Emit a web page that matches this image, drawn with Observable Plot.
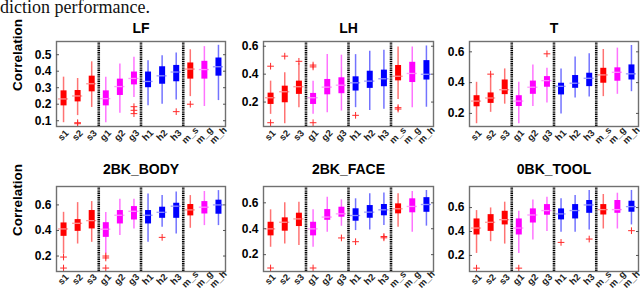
<!DOCTYPE html>
<html><head><meta charset="utf-8">
<script src="https://cdn.jsdelivr.net/npm/d3@7"></script>
<script src="https://cdn.jsdelivr.net/npm/@observablehq/plot@0.6"></script>
<style>
body{margin:0;background:#fff;}
#wrap{position:relative;width:640px;height:291px;overflow:hidden;background:#fff;}
#head{position:absolute;left:0;top:-2px;font:18px/18px "Liberation Serif","Times New Roman",serif;color:#111;white-space:nowrap;}
.panel{position:absolute;}
</style></head><body>
<div id="wrap"><div id="head">diction performance.</div></div>
<script>
// ---- categories ----
const categories = ["s1","s2","s3","g1","g2","g3","h1","h2","h3","m_s","m_g","m_h"];
const separators = [3.5, 6.5, 9.5];

// ---- LF ----
const LF_lo  = [0.088,0.131,0.180,0.088,0.145,0.240,0.190,0.200,0.226,0.246,0.186,0.222];
const LF_q1  = [0.190,0.214,0.275,0.190,0.253,0.317,0.300,0.321,0.336,0.352,0.352,0.370];
const LF_med = [0.232,0.250,0.324,0.234,0.307,0.356,0.338,0.372,0.395,0.413,0.410,0.427];
const LF_q3  = [0.281,0.283,0.370,0.281,0.352,0.395,0.395,0.427,0.435,0.450,0.460,0.480];
const LF_hi  = [0.364,0.356,0.457,0.364,0.443,0.484,0.463,0.494,0.510,0.530,0.549,0.557];
const LF_out = [["s2",0.082],["s2",0.088],["g3",0.185],["g3",0.163],["g3",0.143],["h3",0.155],["m_s",0.200]];
const LF_ticks = [0.1,0.2,0.3,0.4,0.5];

// ---- LH ----
const LH_lo  = [0.112,0.045,0.160,0.112,0.124,0.136,0.160,0.140,0.148,0.219,0.160,0.163];
const LH_q1  = [0.183,0.195,0.255,0.183,0.252,0.260,0.279,0.298,0.310,0.352,0.340,0.358];
const LH_med = [0.231,0.274,0.310,0.231,0.307,0.321,0.338,0.350,0.367,0.385,0.405,0.399];
const LH_q3  = [0.264,0.314,0.350,0.262,0.362,0.374,0.381,0.421,0.429,0.462,0.485,0.497];
const LH_hi  = [0.350,0.410,0.475,0.350,0.540,0.536,0.540,0.564,0.571,0.595,0.595,0.602];
const LH_out = [["s1",0.457],["s1",0.052],["s2",0.529],["s3",0.492],["g1",0.465],["g1",0.452],["g1",0.052],["h1",0.105],["m_s",0.160],["m_s",0.150]];
const LH_ticks = [0.2,0.4,0.6];

// ---- T ----
const T_lo  = [0.133,0.207,0.260,0.133,0.245,0.267,0.196,0.300,0.306,0.309,0.324,0.341];
const T_q1  = [0.243,0.265,0.322,0.245,0.324,0.370,0.320,0.363,0.374,0.396,0.409,0.417];
const T_med = [0.280,0.300,0.354,0.280,0.370,0.413,0.376,0.396,0.428,0.450,0.467,0.457];
const T_q3  = [0.315,0.333,0.417,0.315,0.410,0.439,0.396,0.446,0.461,0.493,0.496,0.515];
const T_hi  = [0.402,0.445,0.489,0.402,0.515,0.493,0.489,0.567,0.587,0.615,0.624,0.641];
const T_out = [["s2",0.455],["g3",0.587]];
const T_ticks = [0.2,0.4,0.6];

// ---- 2BK_BODY ----
const BODY_lo  = [0.216,0.294,0.307,0.216,0.360,0.412,0.307,0.425,0.373,0.417,0.438,0.438];
const BODY_q1  = [0.354,0.393,0.412,0.346,0.451,0.482,0.451,0.495,0.495,0.514,0.529,0.527];
const BODY_med = [0.412,0.456,0.477,0.410,0.519,0.550,0.519,0.542,0.590,0.561,0.582,0.600];
const BODY_q3  = [0.459,0.485,0.556,0.461,0.556,0.587,0.556,0.582,0.613,0.603,0.626,0.637];
const BODY_hi  = [0.542,0.618,0.626,0.540,0.644,0.644,0.686,0.673,0.700,0.673,0.705,0.712];
const BODY_out = [["s1",0.192],["s1",0.106],["g1",0.200],["g1",0.185],["g1",0.106],["h2",0.346]];
const BODY_ticks = [0.2,0.4,0.6];

// ---- 2BK_FACE ----
const FACE_lo  = [0.257,0.283,0.270,0.257,0.373,0.419,0.386,0.391,0.425,0.412,0.373,0.420];
const FACE_q1  = [0.345,0.381,0.417,0.345,0.465,0.489,0.458,0.481,0.500,0.515,0.523,0.527];
const FACE_med = [0.399,0.450,0.476,0.399,0.490,0.515,0.502,0.528,0.546,0.554,0.572,0.587];
const FACE_q3  = [0.450,0.484,0.520,0.450,0.548,0.566,0.554,0.579,0.587,0.592,0.631,0.640];
const FACE_hi  = [0.546,0.600,0.605,0.546,0.644,0.623,0.631,0.670,0.675,0.670,0.688,0.695];
const FACE_out = [["s1",0.097],["g1",0.097],["g3",0.329],["h1",0.300],["h3",0.340],["h3",0.330]];
const FACE_ticks = [0.2,0.4,0.6];

// ---- 0BK_TOOL ----
const TOOL_lo  = [0.217,0.315,0.295,0.217,0.329,0.401,0.393,0.393,0.413,0.421,0.421,0.455];
const TOOL_q1  = [0.371,0.401,0.455,0.371,0.471,0.536,0.497,0.505,0.552,0.538,0.552,0.561];
const TOOL_med = [0.429,0.477,0.499,0.429,0.538,0.575,0.547,0.575,0.622,0.583,0.583,0.608];
const TOOL_q3  = [0.505,0.541,0.569,0.505,0.589,0.625,0.589,0.625,0.659,0.625,0.659,0.653];
const TOOL_hi  = [0.575,0.597,0.645,0.569,0.664,0.687,0.673,0.701,0.743,0.709,0.720,0.743];
const TOOL_out = [["s1",0.094],["g1",0.094],["h1",0.309],["h3",0.337],["m_h",0.407]];
const TOOL_ticks = [0.2,0.4,0.6];

const groupOf = c => c.startsWith("m_") ? c[2] : c[0];
const colorScale = {domain: ["s","g","h"], range: ["#ff0000","#ff00ff","#0000ff"]};

function panel(o) {
  const [L, T, R, B] = o.frame;
  const ml = 50, mr = 2, mt = 36, mb = 24;
  const rows = categories.map((c, i) => ({c, x: i + 1, g: groupOf(c),
    lo: o.lo[i], q1: o.q1[i], med: o.med[i], q3: o.q3[i], hi: o.hi[i]}));
  const outs = o.out.map(([c, v]) => ({x: categories.indexOf(c) + 1, y: v}));
  const svg = Plot.plot({
    width: ml + (R - L) + mr, height: mt + (B - T) + mb,
    marginLeft: ml, marginRight: mr, marginTop: mt, marginBottom: mb,
    x: {domain: [0.5, 12.5], axis: null},
    y: {domain: o.domain},
    color: colorScale,
    style: {background: "none", overflow: "visible", fontFamily: "'Liberation Sans', Arial, sans-serif", color: "#000"},
    marks: [
      Plot.ruleX(rows, {x: "x", y1: "lo", y2: "hi", stroke: "g", strokeWidth: 1.5, strokeOpacity: 0.55}),
      Plot.ruleX(rows, {x: "x", y1: "q1", y2: "q3", stroke: "g", strokeWidth: 6}),
      Plot.ruleY(rows, {y: "med", x1: d => d.x - 0.36, x2: d => d.x + 0.36, stroke: "g", strokeOpacity: 0.4, strokeWidth: 1.3}),
      Plot.ruleY(rows, {y: "med", x1: d => d.x - 0.21, x2: d => d.x + 0.21, stroke: "white", strokeOpacity: 0.55, strokeWidth: 1.3}),
      Plot.dot(outs, {x: "x", y: "y", symbol: "plus", r: 2.3, stroke: "#ff2a2a", strokeWidth: 1}),
      Plot.ruleX(separators, {stroke: "#000", strokeWidth: 2.6, strokeDasharray: "1.4,0.8"}),
      Plot.frame({stroke: "#707070", strokeWidth: 1.4}),
      Plot.axisY({ticks: o.ticks, anchor: "left", tickSize: 0, tickPadding: 5, fontSize: 12, fontWeight: "bold", tickFormat: d3.format(".1f")}),
      Plot.axisY({ticks: o.ticks, anchor: "left", tickSize: -3, tickFormat: () => "", stroke: "#555"}),
      Plot.axisY({ticks: o.ticks, anchor: "right", tickSize: -3, tickFormat: () => "", stroke: "#555"}),
      Plot.text(rows, {x: "x", text: "c", frameAnchor: "bottom", rotate: -45, dy: o.xdy, dx: 2, fontSize: 9.5, fontWeight: "bold", fill: "#222"}),
      Plot.text([o.title], {frameAnchor: "top", lineAnchor: "bottom", dy: o.tdy, fontSize: 14, fontWeight: "bold"}),
      o.ylabel ? Plot.text(["Correlation"], {frameAnchor: "left", rotate: -90, dx: -38.5, dy: 7, fontSize: 13.5, fontWeight: "bold"}) : null
    ]
  });
  svg.classList.add("panel");
  svg.style.left = (L - ml) + "px";
  svg.style.top = (T - mt) + "px";
  svg.style.position = "absolute";
  document.getElementById("wrap").appendChild(svg);
}

panel({title: "LF", lo: LF_lo, q1: LF_q1, med: LF_med, q3: LF_q3, hi: LF_hi, out: LF_out, ticks: LF_ticks,
  domain: [0.065, 0.58], frame: [56, 41, 225, 126], tdy: -8.5, xdy: 11, ylabel: true});
panel({title: "LH", lo: LH_lo, q1: LH_q1, med: LH_med, q3: LH_q3, hi: LH_hi, out: LH_out, ticks: LH_ticks,
  domain: [0.025, 0.634], frame: [263, 41, 433, 126], tdy: -8.5, xdy: 11});
panel({title: "T", lo: T_lo, q1: T_q1, med: T_med, q3: T_q3, hi: T_hi, out: T_out, ticks: T_ticks,
  domain: [0.115, 0.667], frame: [469, 41, 638, 126], tdy: -8.5, xdy: 11});
panel({title: "2BK_BODY", lo: BODY_lo, q1: BODY_q1, med: BODY_med, q3: BODY_q3, hi: BODY_hi, out: BODY_out, ticks: BODY_ticks,
  domain: [0.079, 0.744], frame: [56, 186, 225, 271], tdy: -13, xdy: 10, ylabel: true});
panel({title: "2BK_FACE", lo: FACE_lo, q1: FACE_q1, med: FACE_med, q3: FACE_q3, hi: FACE_hi, out: FACE_out, ticks: FACE_ticks,
  domain: [0.07, 0.726], frame: [263, 186, 433, 271], tdy: -13, xdy: 10});
panel({title: "0BK_TOOL", lo: TOOL_lo, q1: TOOL_q1, med: TOOL_med, q3: TOOL_q3, hi: TOOL_hi, out: TOOL_out, ticks: TOOL_ticks,
  domain: [0.066, 0.776], frame: [469, 186, 638, 271], tdy: -13, xdy: 10});
</script>
</body></html>
